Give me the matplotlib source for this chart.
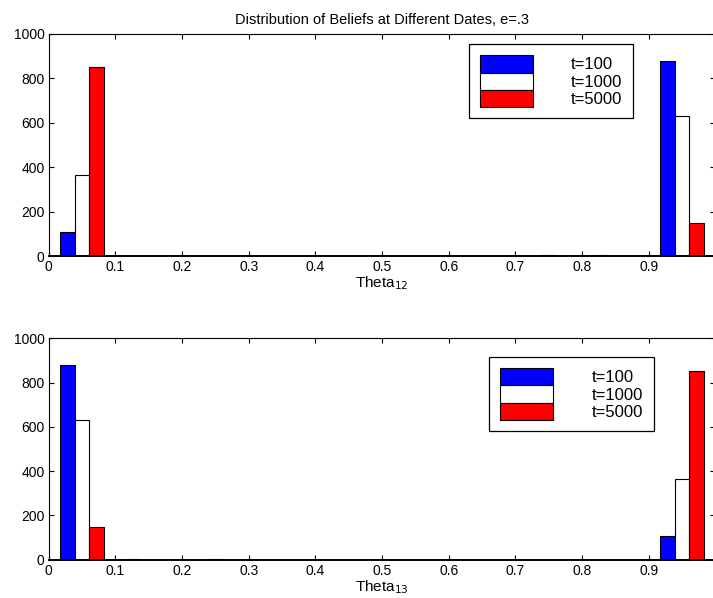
import numpy as np
import matplotlib.pyplot as plt

plt.rcParams['font.family'] = ['Liberation Sans', 'DejaVu Sans']

# bin centres of the histogram
centres = [0.05, 0.15, 0.25, 0.35, 0.45, 0.55, 0.65, 0.75, 0.85, 0.95]
labels = ['t=100', 't=1000', 't=5000']
colours = ['#0000ff', '#ffffff', '#ff0000']

# theta_12 counts per date
t12_100 = [106, 0, 0, 0, 0, 0, 0, 0, 4, 878]
t12_1000 = [364, 0, 0, 0, 0, 0, 0, 3, 0, 629]
t12_5000 = [849, 0, 0, 0, 0, 0, 0, 0, 0, 147]

# theta_13 counts per date
t13_100 = [879, 4, 0, 0, 0, 0, 0, 0, 0, 107]
t13_1000 = [631, 0, 3, 0, 0, 0, 0, 0, 0, 364]
t13_5000 = [146, 0, 0, 0, 0, 0, 0, 0, 0, 851]

fig = plt.figure(figsize=(7.13, 5.98), dpi=100)
ax1 = fig.add_axes([0.0683, 0.5719, 0.935, 0.3717])
ax2 = fig.add_axes([0.0683, 0.0640, 0.935, 0.3702])

w = 0.0222

def draw(ax, series, xlab, leg_xy):
    x = np.array(centres)
    for k, (vals, c, lab) in enumerate(zip(series, colours, labels)):
        ax.bar(x + (k - 1) * w, vals, width=w, color=c, edgecolor='black',
               linewidth=0.8, label=lab)
    ax.set_xlim(0, 1)
    ax.set_ylim(0, 1000)
    ax.set_xticks(np.arange(0, 1.01, 0.1))
    ax.set_xticklabels(['0', '0.1', '0.2', '0.3', '0.4', '0.5', '0.6', '0.7',
                        '0.8', '0.9', '1'])
    ax.set_yticks([0, 200, 400, 600, 800, 1000])
    ax.tick_params(direction='in', top=True, right=True, length=3.5,
                   labelsize=10, pad=3)
    ax.set_xlabel(xlab, fontsize=11, labelpad=0)
    for s in ax.spines.values():
        s.set_linewidth(0.8)
    ax.spines['bottom'].set_linewidth(1.4)
    leg = ax.legend(loc='upper left', bbox_to_anchor=leg_xy,
                    bbox_transform=fig.transFigure, fontsize=12,
                    fancybox=False, framealpha=1, edgecolor='black',
                    handlelength=3.2, handleheight=1.23, labelspacing=0,
                    handletextpad=2.3, borderpad=0.65, borderaxespad=0)
    leg.get_frame().set_linewidth(0.9)

draw(ax1, [t12_100, t12_1000, t12_5000], 'Theta$_{12}$',
     (468.7 / 713, 1 - 44.3 / 598))
draw(ax2, [t13_100, t13_1000, t13_5000], 'Theta$_{13}$',
     (489.3 / 713, 1 - 357 / 598))

ax1.set_title('Distribution of Beliefs at Different Dates, e=.3',
              fontsize=10.5, pad=7)

fig.savefig('out.png', dpi=100)
